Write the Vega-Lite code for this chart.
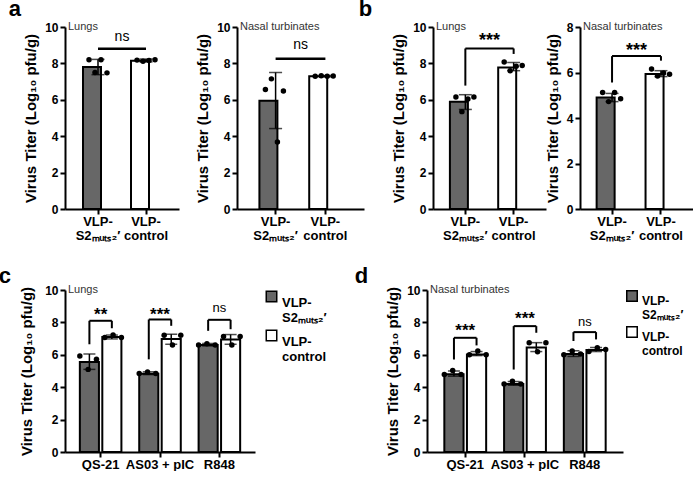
{
  "$schema": "https://vega.github.io/schema/vega-lite/v6.json",
  "background": "white",
  "padding": {"left": -2, "top": -2, "right": 0, "bottom": 0},
  "datasets": {
    "aL": [{"g":"S2","mean":7.8,"lo":7.38,"hi":8.22},{"g":"ctrl","mean":8.15,"lo":8.08,"hi":8.24}],
    "aLp": [{"g":"S2","r":1,"v":8.2},{"g":"S2","r":2,"v":7.5},{"g":"S2","r":3,"v":8.2},{"g":"S2","r":4,"v":7.48},{"g":"ctrl","r":1,"v":8.18},{"g":"ctrl","r":2,"v":8.12},{"g":"ctrl","r":3,"v":8.16},{"g":"ctrl","r":4,"v":8.2}],
    "aLb": [{"l":"S2","r":"ctrl","top":8.8,"txt":"ns","ty":9.45}],
    "aR": [{"g":"S2","mean":5.95,"lo":4.42,"hi":7.5},{"g":"ctrl","mean":7.3,"lo":7.27,"hi":7.33}],
    "aRp": [{"g":"S2","r":1,"v":6.56},{"g":"S2","r":2,"v":7.15},{"g":"S2","r":3,"v":3.68},{"g":"S2","r":4,"v":6.48},{"g":"ctrl","r":1,"v":7.3},{"g":"ctrl","r":2,"v":7.32},{"g":"ctrl","r":3,"v":7.29},{"g":"ctrl","r":4,"v":7.31}],
    "aRb": [{"l":"S2","r":"ctrl","top":8.25,"txt":"ns","ty":9.0}],
    "bL": [{"g":"S2","mean":5.89,"lo":5.47,"hi":6.28},{"g":"ctrl","mean":7.78,"lo":7.6,"hi":8.05}],
    "bLp": [{"g":"S2","r":1,"v":6.15},{"g":"S2","r":2,"v":5.35},{"g":"S2","r":3,"v":6.05},{"g":"S2","r":4,"v":6.15},{"g":"ctrl","r":1,"v":8.08},{"g":"ctrl","r":2,"v":7.6},{"g":"ctrl","r":3,"v":7.85},{"g":"ctrl","r":4,"v":7.88}],
    "bLb": [{"l":"S2","r":"ctrl","top":8.82,"lb":6.78,"rb":8.52,"txt":"***","ty":9.44}],
    "bR": [{"g":"S2","mean":4.9,"lo":4.72,"hi":5.08},{"g":"ctrl","mean":5.93,"lo":5.82,"hi":6.08}],
    "bRp": [{"g":"S2","r":1,"v":5.12},{"g":"S2","r":2,"v":4.72},{"g":"S2","r":3,"v":5.12},{"g":"S2","r":4,"v":4.85},{"g":"ctrl","r":1,"v":6.15},{"g":"ctrl","r":2,"v":5.85},{"g":"ctrl","r":3,"v":5.98},{"g":"ctrl","r":4,"v":5.92}],
    "bRb": [{"l":"S2","r":"ctrl","top":6.72,"lb":5.56,"rb":6.52,"txt":"***","ty":7.12}],
    "c": [
      {"adj":"QS-21","g":"S2","mean":5.55,"lo":5.1,"hi":6.05},{"adj":"QS-21","g":"ctrl","mean":7.1,"lo":6.98,"hi":7.22},
      {"adj":"AS03 + pIC","g":"S2","mean":4.83,"lo":4.78,"hi":4.95},{"adj":"AS03 + pIC","g":"ctrl","mean":6.97,"lo":6.65,"hi":7.27},
      {"adj":"R848","g":"S2","mean":6.6,"lo":6.55,"hi":6.7},{"adj":"R848","g":"ctrl","mean":6.95,"lo":6.65,"hi":7.25}
    ],
    "cp": [
      {"adj":"QS-21","k":"S2-1","v":5.93},{"adj":"QS-21","k":"S2-2","v":5.1},{"adj":"QS-21","k":"S2-3","v":5.72},
      {"adj":"QS-21","k":"ctrl-1","v":7.07},{"adj":"QS-21","k":"ctrl-2","v":7.23},{"adj":"QS-21","k":"ctrl-3","v":7.07},
      {"adj":"AS03 + pIC","k":"S2-1","v":4.85},{"adj":"AS03 + pIC","k":"S2-2","v":4.94},{"adj":"AS03 + pIC","k":"S2-3","v":4.85},
      {"adj":"AS03 + pIC","k":"ctrl-1","v":7.21},{"adj":"AS03 + pIC","k":"ctrl-2","v":6.61},{"adj":"AS03 + pIC","k":"ctrl-3","v":7.21},
      {"adj":"R848","k":"S2-1","v":6.6},{"adj":"R848","k":"S2-2","v":6.68},{"adj":"R848","k":"S2-3","v":6.6},
      {"adj":"R848","k":"ctrl-1","v":7.13},{"adj":"R848","k":"ctrl-2","v":6.61},{"adj":"R848","k":"ctrl-3","v":7.13}
    ],
    "cb": [
      {"adj":"QS-21","top":8.1,"lb":6.65,"rb":7.64,"txt":"**","ty":8.68},
      {"adj":"AS03 + pIC","top":8.18,"lb":5.72,"rb":7.79,"txt":"***","ty":8.72},
      {"adj":"R848","top":8.16,"lb":7.48,"rb":7.58,"txt":"ns","ty":8.9}
    ],
    "d": [
      {"adj":"QS-21","g":"S2","mean":4.8,"lo":4.68,"hi":5.0},{"adj":"QS-21","g":"ctrl","mean":6.02,"lo":5.95,"hi":6.2},
      {"adj":"AS03 + pIC","g":"S2","mean":4.2,"lo":4.12,"hi":4.35},{"adj":"AS03 + pIC","g":"ctrl","mean":6.45,"lo":6.2,"hi":6.75},
      {"adj":"R848","g":"S2","mean":6.05,"lo":5.9,"hi":6.25},{"adj":"R848","g":"ctrl","mean":6.3,"lo":6.2,"hi":6.45}
    ],
    "dp": [
      {"adj":"QS-21","k":"S2-1","v":4.78},{"adj":"QS-21","k":"S2-2","v":5.03},{"adj":"QS-21","k":"S2-3","v":4.78},
      {"adj":"QS-21","k":"ctrl-1","v":6.0},{"adj":"QS-21","k":"ctrl-2","v":6.23},{"adj":"QS-21","k":"ctrl-3","v":6.0},
      {"adj":"AS03 + pIC","k":"S2-1","v":4.2},{"adj":"AS03 + pIC","k":"S2-2","v":4.37},{"adj":"AS03 + pIC","k":"S2-3","v":4.2},
      {"adj":"AS03 + pIC","k":"ctrl-1","v":6.74},{"adj":"AS03 + pIC","k":"ctrl-2","v":6.19},{"adj":"AS03 + pIC","k":"ctrl-3","v":6.74},
      {"adj":"R848","k":"S2-1","v":6.0},{"adj":"R848","k":"S2-2","v":6.23},{"adj":"R848","k":"S2-3","v":6.05},
      {"adj":"R848","k":"ctrl-1","v":6.2},{"adj":"R848","k":"ctrl-2","v":6.43},{"adj":"R848","k":"ctrl-3","v":6.33}
    ],
    "db": [
      {"adj":"QS-21","top":7.05,"lb":5.71,"rb":6.58,"txt":"***","ty":7.71},
      {"adj":"AS03 + pIC","top":7.77,"lb":5.09,"rb":7.36,"txt":"***","ty":8.43},
      {"adj":"R848","top":7.4,"lb":6.85,"rb":6.95,"txt":"ns","ty":8.02}
    ]
  },
  "vconcat": [
    {
      "spacing": -6,
      "resolve": {"scale": {"fill": "independent", "x": "independent", "y": "independent"}, "legend": {"fill": "independent"}},
      "hconcat": [
        {
          "title": {"text": "a", "anchor": "start", "frame": "bounds", "fontSize": 22, "fontWeight": "bold", "color": "black", "baseline": "alphabetic", "offset": -17, "dx": -15},
          "spacing": 16,
          "resolve": {"scale": {"fill": "independent", "x": "independent", "y": "independent"}},
          "hconcat": [
            {
              "width": 114, "height": 182,
              "title": {"text": "Lungs", "anchor": "start", "frame": "group", "offset": -20, "fontSize": 11, "fontWeight": "normal", "color": "#333333", "baseline": "alphabetic", "dx": 3},
              "layer": [
                {"data": {"name": "aL"}, "mark": {"type": "bar", "stroke": "black", "strokeWidth": 2},
                 "encoding": {
                   "x": {"field": "g", "type": "nominal", "title": null, "scale": {"domain": ["S2", "ctrl"], "paddingInner": 0.375, "paddingOuter": 0.375}, "axis": {"labelExpr": "datum.value == 'S2' ? ['VLP-', 'S2ₘᵤₜₛ₂′'] : ['VLP-', 'control']"}},
                   "y": {"field": "mean", "type": "quantitative", "title": "Virus Titer (Log₁₀ pfu/g)", "scale": {"domain": [0, 10], "nice": false}, "axis": {"values": [0, 2, 4, 6, 8, 10], "tickCount": 10, "labelOverlap": false}},
                   "fill": {"field": "g", "type": "nominal", "scale": {"domain": ["S2", "ctrl"], "range": ["#676767", "#ffffff"]}, "legend": null}}},
                {"data": {"name": "aL"}, "mark": {"type": "rule", "strokeWidth": 1.5, "color": "black"},
                 "encoding": {"x": {"field": "g", "type": "nominal", "title": null}, "y": {"field": "lo", "type": "quantitative", "title": "Virus Titer (Log₁₀ pfu/g)"}, "y2": {"field": "hi"}}},
                {"data": {"name": "aL"}, "mark": {"type": "tick", "size": 13, "thickness": 1.5, "color": "black"},
                 "encoding": {"x": {"field": "g", "type": "nominal", "title": null}, "y": {"field": "hi", "type": "quantitative", "title": "Virus Titer (Log₁₀ pfu/g)"}}},
                {"data": {"name": "aL"}, "mark": {"type": "tick", "size": 13, "thickness": 1.5, "color": "black"},
                 "encoding": {"x": {"field": "g", "type": "nominal", "title": null}, "y": {"field": "lo", "type": "quantitative", "title": "Virus Titer (Log₁₀ pfu/g)"}}},
                {"data": {"name": "aLp"}, "mark": {"type": "circle", "size": 30, "color": "black", "opacity": 1},
                 "encoding": {"x": {"field": "g", "type": "nominal", "title": null}, "xOffset": {"field": "r", "type": "ordinal", "scale": {"paddingOuter": 1, "paddingInner": 0}}, "y": {"field": "v", "type": "quantitative", "title": "Virus Titer (Log₁₀ pfu/g)"}}},
                {"data": {"name": "aLb"}, "mark": {"type": "rule", "strokeWidth": 2.5, "color": "black"},
                 "encoding": {"x": {"field": "l", "type": "nominal", "title": null, "bandPosition": 0.5}, "x2": {"field": "r", "bandPosition": 0.5}, "y": {"field": "top", "type": "quantitative", "title": "Virus Titer (Log₁₀ pfu/g)"}}},
                {"data": {"name": "aLb"}, "mark": {"type": "text", "fontSize": 14, "color": "black", "baseline": "middle", "align": "center"},
                 "encoding": {"x": {"field": "l", "type": "nominal", "title": null, "bandPosition": 1.3}, "y": {"field": "ty", "type": "quantitative", "title": "Virus Titer (Log₁₀ pfu/g)"}, "text": {"field": "txt"}}}
              ]
            },
            {
              "width": 127, "height": 182,
              "title": {"text": "Nasal turbinates", "anchor": "start", "frame": "group", "offset": -20, "fontSize": 11, "fontWeight": "normal", "color": "#333333", "baseline": "alphabetic", "dx": 3},
              "layer": [
                {"data": {"name": "aR"}, "mark": {"type": "bar", "stroke": "black", "strokeWidth": 2},
                 "encoding": {
                   "x": {"field": "g", "type": "nominal", "title": null, "scale": {"domain": ["S2", "ctrl"], "paddingInner": 0.35, "paddingOuter": 0.45}, "axis": {"labelExpr": "datum.value == 'S2' ? ['VLP-', 'S2ₘᵤₜₛ₂′'] : ['VLP-', 'control']"}},
                   "y": {"field": "mean", "type": "quantitative", "title": "Virus Titer (Log₁₀ pfu/g)", "scale": {"domain": [0, 10], "nice": false}, "axis": {"values": [0, 2, 4, 6, 8, 10], "tickCount": 10, "labelOverlap": false}},
                   "fill": {"field": "g", "type": "nominal", "scale": {"domain": ["S2", "ctrl"], "range": ["#676767", "#ffffff"]}, "legend": null}}},
                {"data": {"name": "aR"}, "mark": {"type": "rule", "strokeWidth": 1.5, "color": "black"},
                 "encoding": {"x": {"field": "g", "type": "nominal", "title": null}, "y": {"field": "lo", "type": "quantitative", "title": "Virus Titer (Log₁₀ pfu/g)"}, "y2": {"field": "hi"}}},
                {"data": {"name": "aR"}, "mark": {"type": "tick", "size": 13, "thickness": 1.5, "color": "black"},
                 "encoding": {"x": {"field": "g", "type": "nominal", "title": null}, "y": {"field": "hi", "type": "quantitative", "title": "Virus Titer (Log₁₀ pfu/g)"}}},
                {"data": {"name": "aR"}, "mark": {"type": "tick", "size": 13, "thickness": 1.5, "color": "black"},
                 "encoding": {"x": {"field": "g", "type": "nominal", "title": null}, "y": {"field": "lo", "type": "quantitative", "title": "Virus Titer (Log₁₀ pfu/g)"}}},
                {"data": {"name": "aRp"}, "mark": {"type": "circle", "size": 30, "color": "black", "opacity": 1},
                 "encoding": {"x": {"field": "g", "type": "nominal", "title": null}, "xOffset": {"field": "r", "type": "ordinal", "scale": {"paddingOuter": 1, "paddingInner": 0}}, "y": {"field": "v", "type": "quantitative", "title": "Virus Titer (Log₁₀ pfu/g)"}}},
                {"data": {"name": "aRb"}, "mark": {"type": "rule", "strokeWidth": 2.5, "color": "black"},
                 "encoding": {"x": {"field": "l", "type": "nominal", "title": null, "bandPosition": 0.5}, "x2": {"field": "r", "bandPosition": 0.5}, "y": {"field": "top", "type": "quantitative", "title": "Virus Titer (Log₁₀ pfu/g)"}}},
                {"data": {"name": "aRb"}, "mark": {"type": "text", "fontSize": 14, "color": "black", "baseline": "middle", "align": "center"},
                 "encoding": {"x": {"field": "l", "type": "nominal", "title": null, "bandPosition": 1.27}, "y": {"field": "ty", "type": "quantitative", "title": "Virus Titer (Log₁₀ pfu/g)"}, "text": {"field": "txt"}}}
              ]
            }
          ]
        },
        {
          "title": {"text": "b", "anchor": "start", "frame": "bounds", "fontSize": 22, "fontWeight": "bold", "color": "black", "baseline": "alphabetic", "offset": -17, "dx": -33},
          "spacing": -1,
          "resolve": {"scale": {"fill": "independent", "x": "independent", "y": "independent"}},
          "hconcat": [
            {
              "width": 113, "height": 182,
              "title": {"text": "Lungs", "anchor": "start", "frame": "group", "offset": -20, "fontSize": 11, "fontWeight": "normal", "color": "#333333", "baseline": "alphabetic", "dx": 3},
              "layer": [
                {"data": {"name": "bL"}, "mark": {"type": "bar", "stroke": "black", "strokeWidth": 2},
                 "encoding": {
                   "x": {"field": "g", "type": "nominal", "title": null, "scale": {"domain": ["S2", "ctrl"], "paddingInner": 0.36, "paddingOuter": 0.35}, "axis": {"labelExpr": "datum.value == 'S2' ? ['VLP-', 'S2ₘᵤₜₛ₂′'] : ['VLP-', 'control']"}},
                   "y": {"field": "mean", "type": "quantitative", "title": "Virus Titer (Log₁₀ pfu/g)", "scale": {"domain": [0, 10], "nice": false}, "axis": {"values": [0, 2, 4, 6, 8, 10], "tickCount": 10, "labelOverlap": false}},
                   "fill": {"field": "g", "type": "nominal", "scale": {"domain": ["S2", "ctrl"], "range": ["#676767", "#ffffff"]}, "legend": null}}},
                {"data": {"name": "bL"}, "mark": {"type": "rule", "strokeWidth": 1.5, "color": "black"},
                 "encoding": {"x": {"field": "g", "type": "nominal", "title": null}, "y": {"field": "lo", "type": "quantitative", "title": "Virus Titer (Log₁₀ pfu/g)"}, "y2": {"field": "hi"}}},
                {"data": {"name": "bL"}, "mark": {"type": "tick", "size": 13, "thickness": 1.5, "color": "black"},
                 "encoding": {"x": {"field": "g", "type": "nominal", "title": null}, "y": {"field": "hi", "type": "quantitative", "title": "Virus Titer (Log₁₀ pfu/g)"}}},
                {"data": {"name": "bL"}, "mark": {"type": "tick", "size": 13, "thickness": 1.5, "color": "black"},
                 "encoding": {"x": {"field": "g", "type": "nominal", "title": null}, "y": {"field": "lo", "type": "quantitative", "title": "Virus Titer (Log₁₀ pfu/g)"}}},
                {"data": {"name": "bLp"}, "mark": {"type": "circle", "size": 30, "color": "black", "opacity": 1},
                 "encoding": {"x": {"field": "g", "type": "nominal", "title": null}, "xOffset": {"field": "r", "type": "ordinal", "scale": {"paddingOuter": 1, "paddingInner": 0}}, "y": {"field": "v", "type": "quantitative", "title": "Virus Titer (Log₁₀ pfu/g)"}}},
                {"data": {"name": "bLb"}, "mark": {"type": "rule", "strokeWidth": 2, "color": "black"},
                 "encoding": {"x": {"field": "l", "type": "nominal", "title": null, "bandPosition": 0.5}, "x2": {"field": "r", "bandPosition": 0.5}, "y": {"field": "top", "type": "quantitative", "title": "Virus Titer (Log₁₀ pfu/g)"}}},
                {"data": {"name": "bLb"}, "mark": {"type": "rule", "strokeWidth": 2, "color": "black"},
                 "encoding": {"x": {"field": "l", "type": "nominal", "title": null, "bandPosition": 0.5}, "y": {"field": "lb", "type": "quantitative", "title": "Virus Titer (Log₁₀ pfu/g)"}, "y2": {"field": "top"}}},
                {"data": {"name": "bLb"}, "mark": {"type": "rule", "strokeWidth": 2, "color": "black"},
                 "encoding": {"x": {"field": "r", "type": "nominal", "title": null, "bandPosition": 0.5}, "y": {"field": "rb", "type": "quantitative", "title": "Virus Titer (Log₁₀ pfu/g)"}, "y2": {"field": "top"}}},
                {"data": {"name": "bLb"}, "mark": {"type": "text", "fontSize": 18, "fontWeight": "bold", "color": "black", "baseline": "middle", "align": "center", "dy": 4},
                 "encoding": {"x": {"field": "l", "type": "nominal", "title": null, "bandPosition": 1.28}, "y": {"field": "ty", "type": "quantitative", "title": "Virus Titer (Log₁₀ pfu/g)"}, "text": {"field": "txt"}}}
              ]
            },
            {
              "width": 113, "height": 182,
              "title": {"text": "Nasal turbinates", "anchor": "start", "frame": "group", "offset": -20, "fontSize": 11, "fontWeight": "normal", "color": "#333333", "baseline": "alphabetic", "dx": 3},
              "layer": [
                {"data": {"name": "bR"}, "mark": {"type": "bar", "stroke": "black", "strokeWidth": 2},
                 "encoding": {
                   "x": {"field": "g", "type": "nominal", "title": null, "scale": {"domain": ["S2", "ctrl"], "paddingInner": 0.37, "paddingOuter": 0.34}, "axis": {"labelExpr": "datum.value == 'S2' ? ['VLP-', 'S2ₘᵤₜₛ₂′'] : ['VLP-', 'control']"}},
                   "y": {"field": "mean", "type": "quantitative", "title": "Virus Titer (Log₁₀ pfu/g)", "scale": {"domain": [0, 8], "nice": false}, "axis": {"values": [0, 2, 4, 6, 8], "tickCount": 10, "labelOverlap": false}},
                   "fill": {"field": "g", "type": "nominal", "scale": {"domain": ["S2", "ctrl"], "range": ["#676767", "#ffffff"]}, "legend": null}}},
                {"data": {"name": "bR"}, "mark": {"type": "rule", "strokeWidth": 1.5, "color": "black"},
                 "encoding": {"x": {"field": "g", "type": "nominal", "title": null}, "y": {"field": "lo", "type": "quantitative", "title": "Virus Titer (Log₁₀ pfu/g)"}, "y2": {"field": "hi"}}},
                {"data": {"name": "bR"}, "mark": {"type": "tick", "size": 13, "thickness": 1.5, "color": "black"},
                 "encoding": {"x": {"field": "g", "type": "nominal", "title": null}, "y": {"field": "hi", "type": "quantitative", "title": "Virus Titer (Log₁₀ pfu/g)"}}},
                {"data": {"name": "bR"}, "mark": {"type": "tick", "size": 13, "thickness": 1.5, "color": "black"},
                 "encoding": {"x": {"field": "g", "type": "nominal", "title": null}, "y": {"field": "lo", "type": "quantitative", "title": "Virus Titer (Log₁₀ pfu/g)"}}},
                {"data": {"name": "bRp"}, "mark": {"type": "circle", "size": 30, "color": "black", "opacity": 1},
                 "encoding": {"x": {"field": "g", "type": "nominal", "title": null}, "xOffset": {"field": "r", "type": "ordinal", "scale": {"paddingOuter": 1, "paddingInner": 0}}, "y": {"field": "v", "type": "quantitative", "title": "Virus Titer (Log₁₀ pfu/g)"}}},
                {"data": {"name": "bRb"}, "mark": {"type": "rule", "strokeWidth": 2, "color": "black"},
                 "encoding": {"x": {"field": "l", "type": "nominal", "title": null, "bandPosition": 0.5}, "x2": {"field": "r", "bandPosition": 0.5}, "y": {"field": "top", "type": "quantitative", "title": "Virus Titer (Log₁₀ pfu/g)"}}},
                {"data": {"name": "bRb"}, "mark": {"type": "rule", "strokeWidth": 2, "color": "black"},
                 "encoding": {"x": {"field": "l", "type": "nominal", "title": null, "bandPosition": 0.5}, "y": {"field": "lb", "type": "quantitative", "title": "Virus Titer (Log₁₀ pfu/g)"}, "y2": {"field": "top"}}},
                {"data": {"name": "bRb"}, "mark": {"type": "rule", "strokeWidth": 2, "color": "black"},
                 "encoding": {"x": {"field": "r", "type": "nominal", "title": null, "bandPosition": 0.5}, "y": {"field": "rb", "type": "quantitative", "title": "Virus Titer (Log₁₀ pfu/g)"}, "y2": {"field": "top"}}},
                {"data": {"name": "bRb"}, "mark": {"type": "text", "fontSize": 18, "fontWeight": "bold", "color": "black", "baseline": "middle", "align": "center", "dy": 4},
                 "encoding": {"x": {"field": "l", "type": "nominal", "title": null, "bandPosition": 1.29}, "y": {"field": "ty", "type": "quantitative", "title": "Virus Titer (Log₁₀ pfu/g)"}, "text": {"field": "txt"}}}
              ]
            }
          ]
        }
      ]
    },
    {
      "spacing": 27,
      "resolve": {"scale": {"fill": "independent", "x": "independent", "y": "independent"}, "legend": {"fill": "independent"}},
      "hconcat": [
        {
          "title": {"text": "c", "anchor": "start", "frame": "bounds", "fontSize": 22, "fontWeight": "bold", "color": "black", "baseline": "alphabetic", "offset": -21, "dx": -21},
          "vconcat": [
            {
              "width": 190, "height": 162,
              "title": {"text": "Lungs", "anchor": "start", "frame": "group", "offset": -20, "fontSize": 11, "fontWeight": "normal", "color": "#333333", "baseline": "alphabetic", "dx": 3},
              "resolve": {"scale": {"xOffset": "independent"}},
              "layer": [
                {"data": {"name": "c"}, "mark": {"type": "bar", "stroke": "black", "strokeWidth": 2},
                 "encoding": {
                   "x": {"field": "adj", "type": "nominal", "title": null, "sort": null, "scale": {"domain": ["QS-21", "AS03 + pIC", "R848"], "paddingInner": 0.3, "paddingOuter": 0.25}},
                   "xOffset": {"field": "g", "type": "nominal", "scale": {"domain": ["S2", "ctrl"], "paddingInner": 0.15, "paddingOuter": 0}},
                   "y": {"field": "mean", "type": "quantitative", "title": "Virus Titer (Log₁₀ pfu/g)", "scale": {"domain": [0, 10], "nice": false}, "axis": {"values": [0, 2, 4, 6, 8, 10], "tickCount": 10, "labelOverlap": false, "titlePadding": 10}},
                   "fill": {"field": "g", "type": "nominal", "scale": {"domain": ["S2", "ctrl"], "range": ["#676767", "#ffffff"]},
                     "legend": {"title": null, "orient": "right", "offset": 10, "padding": 0, "symbolType": "square", "symbolSize": 110, "symbolStrokeColor": "black", "symbolStrokeWidth": 1.5, "labelFontSize": 13, "labelFontWeight": "bold", "labelColor": "black", "labelBaseline": "top", "rowPadding": 2,
                       "labelExpr": "datum.value == 'S2' ? ['VLP-', 'S2ₘᵤₜₛ₂′'] : ['VLP-', 'control']"}}}},
                {"data": {"name": "c"}, "mark": {"type": "rule", "strokeWidth": 1.5, "color": "black"},
                 "encoding": {"x": {"field": "adj", "type": "nominal", "title": null, "sort": null}, "xOffset": {"field": "g", "type": "nominal", "scale": {"domain": ["S2", "ctrl"], "paddingInner": 0.15, "paddingOuter": 0}}, "y": {"field": "lo", "type": "quantitative", "title": "Virus Titer (Log₁₀ pfu/g)"}, "y2": {"field": "hi"}}},
                {"data": {"name": "c"}, "mark": {"type": "tick", "size": 12, "thickness": 1.5, "color": "black"},
                 "encoding": {"x": {"field": "adj", "type": "nominal", "title": null, "sort": null}, "xOffset": {"field": "g", "type": "nominal", "scale": {"domain": ["S2", "ctrl"], "paddingInner": 0.15, "paddingOuter": 0}}, "y": {"field": "hi", "type": "quantitative", "title": "Virus Titer (Log₁₀ pfu/g)"}}},
                {"data": {"name": "c"}, "mark": {"type": "tick", "size": 12, "thickness": 1.5, "color": "black"},
                 "encoding": {"x": {"field": "adj", "type": "nominal", "title": null, "sort": null}, "xOffset": {"field": "g", "type": "nominal", "scale": {"domain": ["S2", "ctrl"], "paddingInner": 0.15, "paddingOuter": 0}}, "y": {"field": "lo", "type": "quantitative", "title": "Virus Titer (Log₁₀ pfu/g)"}}},
                {"data": {"name": "cp"}, "mark": {"type": "circle", "size": 30, "color": "black", "opacity": 1},
                 "encoding": {"x": {"field": "adj", "type": "nominal", "title": null, "sort": null}, "xOffset": {"field": "k", "type": "nominal", "scale": {"domain": ["S2-1", "S2-2", "S2-3", "ctrl-1", "ctrl-2", "ctrl-3"], "paddingInner": 0, "paddingOuter": 0}}, "y": {"field": "v", "type": "quantitative", "title": "Virus Titer (Log₁₀ pfu/g)"}}},
                {"data": {"name": "cb"}, "mark": {"type": "rule", "strokeWidth": 2, "color": "black"},
                 "encoding": {"x": {"field": "adj", "type": "nominal", "title": null, "sort": null, "bandPosition": 0.23}, "x2": {"field": "adj", "bandPosition": 0.77}, "y": {"field": "top", "type": "quantitative", "title": "Virus Titer (Log₁₀ pfu/g)"}}},
                {"data": {"name": "cb"}, "mark": {"type": "rule", "strokeWidth": 2, "color": "black"},
                 "encoding": {"x": {"field": "adj", "type": "nominal", "title": null, "sort": null, "bandPosition": 0.23}, "y": {"field": "lb", "type": "quantitative", "title": "Virus Titer (Log₁₀ pfu/g)"}, "y2": {"field": "top"}}},
                {"data": {"name": "cb"}, "mark": {"type": "rule", "strokeWidth": 2, "color": "black"},
                 "encoding": {"x": {"field": "adj", "type": "nominal", "title": null, "sort": null, "bandPosition": 0.77}, "y": {"field": "rb", "type": "quantitative", "title": "Virus Titer (Log₁₀ pfu/g)"}, "y2": {"field": "top"}}},
                {"data": {"name": "cb"}, "transform": [{"filter": "datum.txt != 'ns'"}], "mark": {"type": "text", "fontSize": 17, "fontWeight": "bold", "color": "black", "baseline": "middle", "align": "center", "dy": 4},
                 "encoding": {"x": {"field": "adj", "type": "nominal", "title": null, "sort": null, "bandPosition": 0.5}, "y": {"field": "ty", "type": "quantitative", "title": "Virus Titer (Log₁₀ pfu/g)"}, "text": {"field": "txt"}}},
                {"data": {"name": "cb"}, "transform": [{"filter": "datum.txt == 'ns'"}], "mark": {"type": "text", "fontSize": 13, "fontWeight": "normal", "color": "black", "baseline": "middle", "align": "center"},
                 "encoding": {"x": {"field": "adj", "type": "nominal", "title": null, "sort": null, "bandPosition": 0.5}, "y": {"field": "ty", "type": "quantitative", "title": "Virus Titer (Log₁₀ pfu/g)"}, "text": {"field": "txt"}}}
              ]
            }
          ]
        },
        {
          "title": {"text": "d", "anchor": "start", "frame": "bounds", "fontSize": 22, "fontWeight": "bold", "color": "black", "baseline": "alphabetic", "offset": -21, "dx": -31},
          "vconcat": [
            {
              "width": 196, "height": 162,
              "title": {"text": "Nasal turbinates", "anchor": "start", "frame": "group", "offset": -20, "fontSize": 11, "fontWeight": "normal", "color": "#333333", "baseline": "alphabetic", "dx": 3},
              "resolve": {"scale": {"xOffset": "independent"}},
              "layer": [
                {"data": {"name": "d"}, "mark": {"type": "bar", "stroke": "black", "strokeWidth": 2},
                 "encoding": {
                   "x": {"field": "adj", "type": "nominal", "title": null, "sort": null, "scale": {"domain": ["QS-21", "AS03 + pIC", "R848"], "paddingInner": 0.3, "paddingOuter": 0.29}},
                   "xOffset": {"field": "g", "type": "nominal", "scale": {"domain": ["S2", "ctrl"], "paddingInner": 0.15, "paddingOuter": 0}},
                   "y": {"field": "mean", "type": "quantitative", "title": "Virus Titer (Log₁₀ pfu/g)", "scale": {"domain": [0, 10], "nice": false}, "axis": {"values": [0, 2, 4, 6, 8, 10], "tickCount": 10, "labelOverlap": false}},
                   "fill": {"field": "g", "type": "nominal", "scale": {"domain": ["S2", "ctrl"], "range": ["#676767", "#ffffff"]},
                     "legend": {"title": null, "orient": "right", "offset": 3, "padding": 0, "symbolType": "square", "symbolSize": 110, "symbolStrokeColor": "black", "symbolStrokeWidth": 1.5, "labelFontSize": 12, "labelFontWeight": "bold", "labelColor": "black", "labelBaseline": "top", "labelOffset": 4, "rowPadding": 2,
                       "labelExpr": "datum.value == 'S2' ? ['VLP-', 'S2ₘᵤₜₛ₂′'] : ['VLP-', 'control']"}}}},
                {"data": {"name": "d"}, "mark": {"type": "rule", "strokeWidth": 1.5, "color": "black"},
                 "encoding": {"x": {"field": "adj", "type": "nominal", "title": null, "sort": null}, "xOffset": {"field": "g", "type": "nominal", "scale": {"domain": ["S2", "ctrl"], "paddingInner": 0.15, "paddingOuter": 0}}, "y": {"field": "lo", "type": "quantitative", "title": "Virus Titer (Log₁₀ pfu/g)"}, "y2": {"field": "hi"}}},
                {"data": {"name": "d"}, "mark": {"type": "tick", "size": 12, "thickness": 1.5, "color": "black"},
                 "encoding": {"x": {"field": "adj", "type": "nominal", "title": null, "sort": null}, "xOffset": {"field": "g", "type": "nominal", "scale": {"domain": ["S2", "ctrl"], "paddingInner": 0.15, "paddingOuter": 0}}, "y": {"field": "hi", "type": "quantitative", "title": "Virus Titer (Log₁₀ pfu/g)"}}},
                {"data": {"name": "d"}, "mark": {"type": "tick", "size": 12, "thickness": 1.5, "color": "black"},
                 "encoding": {"x": {"field": "adj", "type": "nominal", "title": null, "sort": null}, "xOffset": {"field": "g", "type": "nominal", "scale": {"domain": ["S2", "ctrl"], "paddingInner": 0.15, "paddingOuter": 0}}, "y": {"field": "lo", "type": "quantitative", "title": "Virus Titer (Log₁₀ pfu/g)"}}},
                {"data": {"name": "dp"}, "mark": {"type": "circle", "size": 30, "color": "black", "opacity": 1},
                 "encoding": {"x": {"field": "adj", "type": "nominal", "title": null, "sort": null}, "xOffset": {"field": "k", "type": "nominal", "scale": {"domain": ["S2-1", "S2-2", "S2-3", "ctrl-1", "ctrl-2", "ctrl-3"], "paddingInner": 0, "paddingOuter": 0}}, "y": {"field": "v", "type": "quantitative", "title": "Virus Titer (Log₁₀ pfu/g)"}}},
                {"data": {"name": "db"}, "mark": {"type": "rule", "strokeWidth": 2, "color": "black"},
                 "encoding": {"x": {"field": "adj", "type": "nominal", "title": null, "sort": null, "bandPosition": 0.23}, "x2": {"field": "adj", "bandPosition": 0.77}, "y": {"field": "top", "type": "quantitative", "title": "Virus Titer (Log₁₀ pfu/g)"}}},
                {"data": {"name": "db"}, "mark": {"type": "rule", "strokeWidth": 2, "color": "black"},
                 "encoding": {"x": {"field": "adj", "type": "nominal", "title": null, "sort": null, "bandPosition": 0.23}, "y": {"field": "lb", "type": "quantitative", "title": "Virus Titer (Log₁₀ pfu/g)"}, "y2": {"field": "top"}}},
                {"data": {"name": "db"}, "mark": {"type": "rule", "strokeWidth": 2, "color": "black"},
                 "encoding": {"x": {"field": "adj", "type": "nominal", "title": null, "sort": null, "bandPosition": 0.77}, "y": {"field": "rb", "type": "quantitative", "title": "Virus Titer (Log₁₀ pfu/g)"}, "y2": {"field": "top"}}},
                {"data": {"name": "db"}, "transform": [{"filter": "datum.txt != 'ns'"}], "mark": {"type": "text", "fontSize": 17, "fontWeight": "bold", "color": "black", "baseline": "middle", "align": "center", "dy": 4},
                 "encoding": {"x": {"field": "adj", "type": "nominal", "title": null, "sort": null, "bandPosition": 0.5}, "y": {"field": "ty", "type": "quantitative", "title": "Virus Titer (Log₁₀ pfu/g)"}, "text": {"field": "txt"}}},
                {"data": {"name": "db"}, "transform": [{"filter": "datum.txt == 'ns'"}], "mark": {"type": "text", "fontSize": 13, "fontWeight": "normal", "color": "black", "baseline": "middle", "align": "center"},
                 "encoding": {"x": {"field": "adj", "type": "nominal", "title": null, "sort": null, "bandPosition": 0.5}, "y": {"field": "ty", "type": "quantitative", "title": "Virus Titer (Log₁₀ pfu/g)"}, "text": {"field": "txt"}}}
              ]
            }
          ]
        }
      ]
    }
  ],
  "spacing": 23,
  "config": {
    "font": "Liberation Sans",
    "view": {"stroke": null},
    "axis": {"domainColor": "black", "domainWidth": 2, "tickColor": "black", "tickWidth": 2, "tickSize": 5, "labelColor": "black", "labelFont": "Liberation Sans", "labelFontWeight": "bold", "labelFontSize": 12, "labelPadding": 2, "titleFont": "Liberation Sans", "titleFontWeight": "bold", "titleFontSize": 15, "titleColor": "black", "grid": false},
    "axisX": {"labelAngle": 0, "labelFontSize": 13, "labelPadding": 1, "labelLineHeight": 14, "tickSize": 5},
    "axisY": {"titlePadding": 6, "labelOverlap": false},
    "legend": {"labelFont": "Liberation Sans"},
    "title": {"font": "Liberation Sans"}
  }
}
